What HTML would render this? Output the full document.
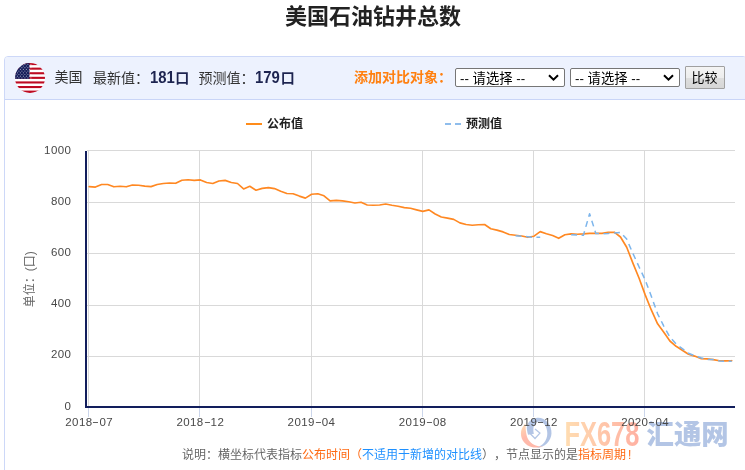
<!DOCTYPE html>
<html lang="zh-CN">
<head>
<meta charset="utf-8">
<title>美国石油钻井总数</title>
<style>
*{box-sizing:border-box;margin:0;padding:0}
html,body{width:745px;height:470px;overflow:hidden;background:#fff}
body{position:relative;font-family:"Liberation Sans","Noto Sans CJK SC",sans-serif;color:#333}
h1{position:absolute;left:0;top:1px;width:746px;height:32px;line-height:32px;text-align:center;font-size:22px;font-weight:bold;color:#222}
.panel{position:absolute;left:4px;top:56px;width:743px;height:430px;border:1px solid #cdd8f8;border-radius:4px 4px 0 0;background:#fff;overflow:hidden}
.hd{position:absolute;left:0;top:0;width:741px;height:43px;background:#edf2fe;border-bottom:1px solid #c9d5f7}
.flag{position:absolute;left:10px;top:6px;width:30px;height:30px}
.hd span{position:absolute;top:0;height:41px;line-height:41px;white-space:nowrap;font-size:14px;color:#333}
.hd b{font-size:14px;color:#1d2450}
.hd b.n{display:inline-block;font-size:16px;transform:scaleX(.93);transform-origin:0 50%;margin-right:-1px;margin-left:.5px;letter-spacing:0}
.hd .add{color:#ff8010;font-weight:bold;font-size:14px}
.sel{position:absolute;top:11px;height:19px;width:110px;border:1px solid #767676;border-radius:2px;background:#fff;font-size:13.33px;line-height:19px;padding-left:4px;color:#000}
.sel svg{position:absolute;right:5px;top:5px}
.btn{position:absolute;left:680px;top:9px;width:40px;height:23px;border:1px solid #a0a0a0;border-radius:1px;background:linear-gradient(#f4f4f4,#ededed 50%,#dedede 51%,#d6d6d6);font-size:13px;line-height:22px;text-align:center;color:#000;padding-right:1px}
.xl{position:absolute;top:414px;width:60px;height:16px;line-height:16px;text-align:center;font-size:11.5px;letter-spacing:.4px;color:#484848;white-space:nowrap}
.xl i{display:inline-block;font-style:normal;width:7px;text-align:center;transform:translateY(-1px) scaleX(1.8);letter-spacing:0}
svg.chart{position:absolute;left:0;top:0}
svg text{font-family:"Liberation Sans","Noto Sans CJK SC",sans-serif}
</style>
</head>
<body>
<h1>美国石油钻井总数</h1>
<div class="panel">
 <div class="hd">
  <svg class="flag" viewBox="0 0 30 30"><defs><clipPath id="fclip"><circle cx="15" cy="15" r="15"/></clipPath></defs>
   <g clip-path="url(#fclip)"><rect width="30" height="30" fill="#fff"/>
   <g fill="#bd0a22"><rect y="0" width="30" height="2.1"/><rect y="4.6" width="30" height="2.1"/><rect y="9.2" width="30" height="2.1"/><rect y="13.8" width="30" height="2.1"/><rect y="18.4" width="30" height="2.1"/><rect y="23" width="30" height="2.1"/><rect y="27.6" width="30" height="2.4"/></g>
   <rect width="14.5" height="15.9" fill="#161f5c"/><g fill="#fff" opacity="0.55"><circle cx="0.9" cy="1.3" r="0.6"/><circle cx="3.9" cy="1.3" r="0.6"/><circle cx="6.9" cy="1.3" r="0.6"/><circle cx="9.9" cy="1.3" r="0.6"/><circle cx="12.9" cy="1.3" r="0.6"/><circle cx="15.9" cy="1.3" r="0.6"/><circle cx="2.4" cy="3.0" r="0.6"/><circle cx="5.4" cy="3.0" r="0.6"/><circle cx="8.4" cy="3.0" r="0.6"/><circle cx="11.4" cy="3.0" r="0.6"/><circle cx="14.4" cy="3.0" r="0.6"/><circle cx="0.9" cy="4.7" r="0.6"/><circle cx="3.9" cy="4.7" r="0.6"/><circle cx="6.9" cy="4.7" r="0.6"/><circle cx="9.9" cy="4.7" r="0.6"/><circle cx="12.9" cy="4.7" r="0.6"/><circle cx="15.9" cy="4.7" r="0.6"/><circle cx="2.4" cy="6.4" r="0.6"/><circle cx="5.4" cy="6.4" r="0.6"/><circle cx="8.4" cy="6.4" r="0.6"/><circle cx="11.4" cy="6.4" r="0.6"/><circle cx="14.4" cy="6.4" r="0.6"/><circle cx="0.9" cy="8.1" r="0.6"/><circle cx="3.9" cy="8.1" r="0.6"/><circle cx="6.9" cy="8.1" r="0.6"/><circle cx="9.9" cy="8.1" r="0.6"/><circle cx="12.9" cy="8.1" r="0.6"/><circle cx="15.9" cy="8.1" r="0.6"/><circle cx="2.4" cy="9.8" r="0.6"/><circle cx="5.4" cy="9.8" r="0.6"/><circle cx="8.4" cy="9.8" r="0.6"/><circle cx="11.4" cy="9.8" r="0.6"/><circle cx="14.4" cy="9.8" r="0.6"/><circle cx="0.9" cy="11.5" r="0.6"/><circle cx="3.9" cy="11.5" r="0.6"/><circle cx="6.9" cy="11.5" r="0.6"/><circle cx="9.9" cy="11.5" r="0.6"/><circle cx="12.9" cy="11.5" r="0.6"/><circle cx="15.9" cy="11.5" r="0.6"/><circle cx="2.4" cy="13.2" r="0.6"/><circle cx="5.4" cy="13.2" r="0.6"/><circle cx="8.4" cy="13.2" r="0.6"/><circle cx="11.4" cy="13.2" r="0.6"/><circle cx="14.4" cy="13.2" r="0.6"/><circle cx="0.9" cy="14.9" r="0.6"/><circle cx="3.9" cy="14.9" r="0.6"/><circle cx="6.9" cy="14.9" r="0.6"/><circle cx="9.9" cy="14.9" r="0.6"/><circle cx="12.9" cy="14.9" r="0.6"/><circle cx="15.9" cy="14.9" r="0.6"/></g></g></svg>
  <span style="left:49.5px">美国</span>
  <span style="left:88px">最新值：<b class="n">181</b><b>口</b></span>
  <span style="left:193.5px">预测值：<b class="n">179</b><b>口</b></span>
  <span class="add" style="left:349px">添加对比对象：</span>
  <div class="sel" style="left:450px">-- 请选择 --<svg width="11" height="8" viewBox="0 0 11 8"><path d="M1 1.2 L5.5 5.7 L10 1.2" fill="none" stroke="#000" stroke-width="2"/></svg></div>
  <div class="sel" style="left:565px">-- 请选择 --<svg width="11" height="8" viewBox="0 0 11 8"><path d="M1 1.2 L5.5 5.7 L10 1.2" fill="none" stroke="#000" stroke-width="2"/></svg></div>
  <div class="btn">比较</div>
 </div>
</div>
<svg class="chart" width="745" height="470" viewBox="0 0 745 470">
 <g id="grid" stroke="#d9d9d9" stroke-width="1" shape-rendering="crispEdges">
  <line x1="87" y1="150.5" x2="735" y2="150.5"/><line x1="87" y1="202.5" x2="735" y2="202.5"/><line x1="87" y1="253.5" x2="735" y2="253.5"/><line x1="87" y1="305.5" x2="735" y2="305.5"/><line x1="87" y1="356.5" x2="735" y2="356.5"/>
  <line x1="88.5" y1="150" x2="88.5" y2="407"/><line x1="199.5" y1="150" x2="199.5" y2="407"/><line x1="311.5" y1="150" x2="311.5" y2="407"/><line x1="422.5" y1="150" x2="422.5" y2="407"/><line x1="533.5" y1="150" x2="533.5" y2="407"/><line x1="644.5" y1="150" x2="644.5" y2="407"/>
 </g>
 <g id="ticks" stroke="#ccd6eb" stroke-width="1" shape-rendering="crispEdges">
  <line x1="88.5" y1="408" x2="88.5" y2="417"/><line x1="199.5" y1="408" x2="199.5" y2="417"/><line x1="311.5" y1="408" x2="311.5" y2="417"/><line x1="422.5" y1="408" x2="422.5" y2="417"/><line x1="533.5" y1="408" x2="533.5" y2="417"/><line x1="644.5" y1="408" x2="644.5" y2="417"/>
 </g>
 <g id="axes" fill="#121e5c" shape-rendering="crispEdges"><rect x="85" y="151" width="2" height="257"/><rect x="85" y="406" width="650" height="2"/></g>
 <g id="ylab" font-size="11.5" fill="#484848" text-anchor="end" letter-spacing="0.4">
  <text x="71.3" y="154">1000</text><text x="71.3" y="205">800</text><text x="71.3" y="256">600</text><text x="71.3" y="307">400</text><text x="71.3" y="358">200</text><text x="71.3" y="410">0</text>
 </g>
 <text font-size="12" fill="#666" text-anchor="middle" transform="translate(34.2,279.3) rotate(-90)">单位：(口)</text>
 <g id="legend" font-size="12">
  <line x1="246" y1="124" x2="262" y2="124" stroke="#ff8c1a" stroke-width="2"/>
  <text x="267" y="128" font-weight="bold" fill="#222">公布值</text>
  <line x1="445" y1="124" x2="461" y2="124" stroke="#8fbdec" stroke-width="2" stroke-dasharray="6 4"/>
  <text x="466" y="128" font-weight="bold" fill="#222">预测值</text>
 </g>
 <g id="series" fill="none" stroke-linejoin="round" stroke-linecap="round">
  <polyline stroke="#ff8822" stroke-width="1.65" points="89.2,186.6 95.4,187.1 101.6,184.5 107.7,184.5 113.9,186.8 120.1,186.3 126.3,186.8 132.4,185.0 138.6,185.3 144.8,186.1 151.0,186.6 157.2,184.5 163.3,183.5 169.5,183.0 175.7,183.3 181.9,180.2 188.0,179.7 194.2,180.4 200.4,179.9 206.6,182.5 212.8,183.5 218.9,181.0 225.1,180.4 231.3,182.5 237.5,183.5 243.6,188.9 249.8,186.3 256.0,190.2 262.2,188.4 268.4,187.6 274.5,188.6 280.7,191.2 286.9,193.5 293.1,193.8 299.3,196.1 305.4,198.1 311.6,194.3 317.8,193.8 324.0,195.8 330.1,200.9 336.3,200.4 342.5,200.9 348.7,201.7 354.9,203.0 361.0,202.2 367.2,205.0 373.4,205.3 379.6,205.0 385.7,204.0 391.9,205.3 398.1,206.3 404.3,207.6 410.5,208.3 416.6,209.9 422.8,211.4 429.0,209.9 435.2,214.0 441.3,217.0 447.5,218.1 453.7,219.4 459.9,222.9 466.1,224.5 472.2,225.2 478.4,224.7 484.6,224.5 490.8,228.8 496.9,230.1 503.1,231.9 509.3,234.5 515.5,235.2 521.7,236.0 527.8,237.3 534.0,236.2 540.2,231.6 546.4,233.7 552.6,235.5 558.7,238.3 564.9,234.7 571.1,233.9 577.3,234.2 583.4,233.9 589.6,233.4 595.8,233.2 602.0,233.4 608.2,232.4 614.3,232.2 620.5,237.0 626.7,247.3 632.9,263.1 639.0,278.0 645.2,294.9 651.4,310.2 657.6,323.8 663.8,332.2 669.9,341.0 676.1,346.3 682.3,350.2 688.5,354.3 694.6,356.1 700.8,358.6 707.0,358.9 713.2,359.6 719.4,360.7 725.5,360.9 731.7,360.7"/>
  <polyline stroke="#7cb5ec" stroke-width="1.5" stroke-dasharray="6 4.5" stroke-linecap="butt" points="515.5,235.7 521.7,236.2 527.8,236.8 534.0,237.3 540.2,237.3"/>
  <polyline stroke="#7cb5ec" stroke-width="1.5" stroke-dasharray="6 4.5" stroke-linecap="butt" points="571.1,234.7 577.3,235.0 583.4,235.2 589.6,213.7 595.8,233.4 602.0,233.7 608.2,233.4 614.3,232.9 620.5,232.4 626.7,239.1 632.9,253.4 639.0,266.7 645.2,280.0 651.4,296.4 657.6,313.8 663.8,326.1 669.9,337.1 676.1,344.0 682.3,348.6 688.5,353.2 694.6,355.8 700.8,357.8 707.0,359.4 713.2,359.6 719.4,360.9 725.5,361.2 731.7,361.2"/>
 </g>

 <g id="wm" opacity="0.47">
  <defs>
   <linearGradient id="wg" x1="0" y1="0" x2="1" y2="0"><stop offset="0" stop-color="#ffb85c"/><stop offset="1" stop-color="#ff5a3c"/></linearGradient>
   <linearGradient id="wo" x1="0" y1="0" x2="0.6" y2="1"><stop offset="0" stop-color="#ffc060"/><stop offset="0.5" stop-color="#ff7050"/><stop offset="1" stop-color="#ff6a4a"/></linearGradient>
  </defs>
  <g transform="translate(536.3,432.9)">
   <path fill="#5f86c8" d="M-9.3,-3 C-10.3,-9 -6,-14.7 1,-15.2 C9,-15.7 15.7,-8 15.2,0.5 C14.8,8 8.5,14.5 0,15 C6,12.8 11,8 11,0.5 C11,-6 7.5,-11.3 3,-11.3 C0,-11.3 -2.6,-8 -2.9,-4 C-3,-2 -2.8,-0.5 -2.3,0.8 L-8.2,1.8 C-8.8,0 -9.1,-1.5 -9.3,-3 Z"/>
   <path fill="url(#wo)" d="M-11,-9.5 C-15,-5.5 -16.5,0 -14.5,5.5 C-11.5,13 -3,16.5 7,13.5 C1,14 -5,11.5 -8,6.5 C-10.5,2 -10.5,-4 -11,-9.5 Z"/>
   <path fill="none" stroke="#5f86c8" stroke-width="1.3" stroke-linejoin="miter" d="M-1.3,-4 L3.6,0.2 L-1.3,5.6 L-6.2,0.6"/>
  </g>
  <text transform="translate(564.4,445.9) scale(0.717,1)" font-size="35.5" font-weight="bold" fill="url(#wg)">FX678</text>
  <text x="646.5" y="443.7" font-size="27.4" font-weight="900" fill="#5f86c8">汇通网</text>
 </g><!--wm-->
</svg>
<div id="xlabs"><span class="xl" style="left:59.2px">2018<i>-</i>07</span><span class="xl" style="left:170.3px">2018<i>-</i>12</span><span class="xl" style="left:281.5px">2019<i>-</i>04</span><span class="xl" style="left:392.7px">2019<i>-</i>08</span><span class="xl" style="left:503.9px">2019<i>-</i>12</span><span class="xl" style="left:615.1px">2020<i>-</i>04</span></div>
<div id="note" style="position:absolute;left:0;top:446px;width:745px;height:18px;line-height:18px;font-size:12px;color:#666;white-space:nowrap;padding-left:182px;text-spacing-trim:space-all">说明：横坐标代表指标<span style="color:#ff6a13">公布时间（</span><span style="color:#1e90ff">不适用于新增的对比线</span>），节点显示的是<span style="color:#ff6a13">指标周期<span style="padding-left:2px">!</span></span></div>
</body>
</html>
